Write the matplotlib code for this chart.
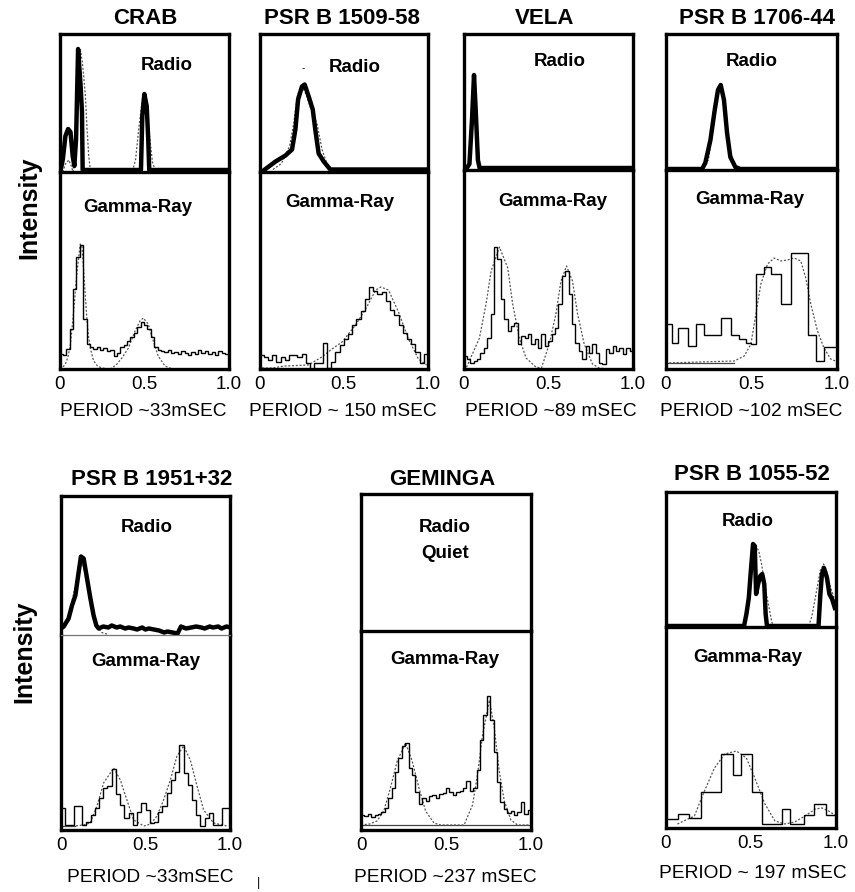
import matplotlib
matplotlib.use("Agg")
import matplotlib.pyplot as plt
import numpy as np

plt.rcParams['font.family'] = ['Liberation Sans', 'DejaVu Sans']

W, H = 855, 892

# ---------------------------------------------------------------- data
names = ["CRAB", "PSR B 1509-58", "VELA", "PSR B 1706-44",
         "PSR B 1951+32", "GEMINGA", "PSR B 1055-52"]
periods = ["PERIOD ~33mSEC", "PERIOD ~ 150 mSEC", "PERIOD ~89 mSEC", "PERIOD ~102 mSEC",
           "PERIOD ~33mSEC", "PERIOD ~237 mSEC", "PERIOD ~ 197 mSEC"]
tick_values = [0, 0.5, 1.0]
tick_labels = ["0", "0.5", "1.0"]

# ---- CRAB
crab_radio_phase = [0.0, 0.006, 0.02, 0.035, 0.051, 0.065, 0.078, 0.088, 0.098, 0.106, 0.11, 0.118,
                    0.125, 0.133, 0.137, 0.482, 0.49, 0.502, 0.516, 0.525, 0.531, 1.0]
crab_radio_int = [1, 1, 13, 36, 43, 40, 16, 6, 33, 93, 123, 103, 86, 60, 2, 2, 56, 78, 66, 33, 2, 2]
crab_radio_fit_phase = [0.02, 0.035, 0.055, 0.07, 0.08, 0.095, 0.105, 0.115, 0.123, 0.135, 0.145, 0.153,
                        0.163, 0.173, 0.182, 0.19, 0.43, 0.45, 0.47, 0.49, 0.50, 0.515, 0.53, 0.55, 0.57]
crab_radio_fit_int = [0, 8, 12, 6, 0, 15, 60, 105, 123, 110, 92, 76, 43, 16, 3, 0, 0, 12, 45, 72, 78, 70,
                      40, 10, 0]
crab_gamma = [15, 14, 20, 40, 80, 112, 124, 50, 25, 22, 20, 22, 19, 21, 18, 19, 13, 16, 22, 24,
              28, 32, 36, 42, 47, 44, 40, 32, 22, 19, 18, 17, 19, 16, 17, 15, 18, 16, 14, 17,
              15, 19, 16, 18, 15, 17, 14, 18, 16, 15]
crab_gamma_fit_phase = [0.0, 0.02, 0.035, 0.05, 0.065, 0.084, 0.104, 0.123, 0.133, 0.143, 0.153, 0.163,
                        0.172, 0.182, 0.202, 0.225, 0.25, 0.3, 0.335, 0.369, 0.408, 0.447, 0.476,
                        0.496, 0.525, 0.555, 0.584, 0.624, 0.653, 0.68]
crab_gamma_fit_int = [1, 2, 5, 12, 25, 58, 98, 125, 122, 98, 72, 48, 32, 21, 8, 3, 1, 0, 4, 11, 21,
                      38, 48, 51, 45, 28, 13, 3, 1, 0]

# ---- PSR B 1509-58
b1509_radio_phase = [0.016, 0.095, 0.154, 0.193, 0.213, 0.229, 0.252, 0.268, 0.292, 0.316, 0.331,
                     0.351, 0.381, 0.42, 1.0]
b1509_radio_int = [0, 10, 16, 22, 42, 72, 85, 87, 75, 62, 42, 18, 10, 2, 2]
b1509_radio_fit_phase = [0.08, 0.13, 0.178, 0.203, 0.225, 0.245, 0.27, 0.30, 0.341, 0.371, 0.40, 0.43, 0.46]
b1509_radio_fit_int = [2, 8, 25, 48, 76, 85, 80, 65, 48, 22, 8, 2, 0]
b1509_gamma = [14, 12, 9, 14, 7, 12, 9, 14, 14, 12, 15, 6, 0, 6, 6, 26, 1, 7, 17, 24,
               30, 35, 44, 50, 58, 70, 82, 78, 75, 77, 68, 59, 54, 44, 36, 30, 25, 17, 6, 15]
b1509_gamma_fit_phase = [0.016, 0.075, 0.15, 0.29, 0.37, 0.43, 0.49, 0.57, 0.63, 0.69, 0.72, 0.765,
                         0.825, 0.884, 0.943, 0.992]
b1509_gamma_fit_int = [1, 1, 3, 4, 12, 20, 27, 44, 60, 79, 82, 79, 57, 30, 10, 4]

# ---- VELA
vela_radio_phase = [0.0, 0.02, 0.035, 0.05, 0.062, 0.072, 0.085, 0.095, 1.0]
vela_radio_int = [2, 2, 6, 50, 95, 60, 10, 2, 2]
vela_radio_fit_phase = [0.02, 0.04, 0.055, 0.065, 0.08, 0.095, 0.11]
vela_radio_fit_int = [0, 20, 80, 95, 40, 5, 0]
vela_gamma = [13, 10, 6, 8, 10, 16, 21, 31, 55, 122, 110, 70, 50, 38, 43, 46, 25, 33, 31, 35,
              25, 30, 21, 35, 23, 28, 35, 41, 65, 93, 98, 75, 45, 26, 18, 10, 23, 16, 25, 16,
              6, 5, 20, 16, 23, 18, 21, 15, 21, 18]
vela_gamma_fit_phase = [0.0, 0.016, 0.094, 0.133, 0.163, 0.212, 0.261, 0.29, 0.329, 0.369, 0.427, 0.46,
                        0.506, 0.545, 0.575, 0.608, 0.643, 0.673, 0.712, 0.761, 0.80, 0.85]
vela_gamma_fit_int = [0, 1, 31, 65, 98, 122, 101, 65, 31, 11, 2, 1, 25, 55, 88, 103, 88, 55, 25, 5, 1, 0]

# ---- PSR B 1706-44
b1706_radio_phase = [0.0, 0.213, 0.232, 0.262, 0.287, 0.306, 0.322, 0.341, 0.359, 0.378, 0.407, 0.436, 1.0]
b1706_radio_int = [1, 1, 7, 30, 60, 80, 85, 70, 37, 13, 3, 1, 1]
b1706_radio_fit_phase = [0.2, 0.25, 0.28, 0.305, 0.32, 0.34, 0.36, 0.38, 0.40, 0.44]
b1706_radio_fit_int = [0, 10, 45, 80, 85, 72, 42, 18, 6, 0]
b1706_gamma_edges = [0.0, 0.039, 0.072, 0.130, 0.178, 0.227, 0.324, 0.382, 0.430, 0.469, 0.498,
                     0.527, 0.576, 0.614, 0.673, 0.731, 0.828, 0.876, 0.924, 1.0]
b1706_gamma = [45, 26, 41, 23, 45, 34, 51, 34, 30, 26, 25, 95, 102, 95, 65, 116, 34, 8, 22]
b1706_gamma_fit_phase = [0.0, 0.401, 0.459, 0.498, 0.527, 0.556, 0.595, 0.634, 0.673, 0.711, 0.75,
                         0.789, 0.818, 0.847, 0.886, 0.924, 0.963, 0.99]
b1706_gamma_fit_int = [6, 8, 13, 25, 55, 85, 105, 111, 108, 109, 111, 108, 91, 65, 38, 21, 10, 8]

# ---- PSR B 1951+32
b1951_radio_phase = [0.0, 0.016, 0.045, 0.065, 0.085, 0.105, 0.118, 0.134, 0.154, 0.174, 0.193, 0.209,
                     0.223, 0.25, 0.28, 0.3, 0.33, 0.35, 0.38, 0.4, 0.43, 0.45, 0.48, 0.5, 0.52, 0.55,
                     0.58, 0.61, 0.63, 0.66, 0.69, 0.71, 0.74, 0.77, 0.8, 0.83, 0.85, 0.88, 0.9, 0.93,
                     0.95, 0.98, 1.0]
b1951_radio_int = [6, 8, 16, 29, 39, 63, 78, 76, 56, 36, 19, 9, 6, 8, 7, 9, 7, 8, 6, 7, 6, 5, 7, 5, 6,
                   5, 4, 2, 3, 2, 1, 8, 6, 7, 8, 7, 6, 8, 7, 8, 6, 8, 7]
b1951_radio_fit_phase = [0.0, 0.04, 0.08, 0.12, 0.16, 0.2, 0.24, 0.28]
b1951_radio_fit_int = [3, 14, 45, 76, 48, 12, 2, 0]
b1951_gamma = [22, 5, 5, 24, 24, 5, 8, 15, 22, 32, 42, 44, 61, 36, 25, 12, 17, 5, 18, 27,
               20, 7, 8, 18, 24, 37, 50, 58, 85, 57, 45, 30, 15, 4, 12, 17, 5, 5, 22, 22]
b1951_gamma_fit_phase = [0.0, 0.08, 0.13, 0.173, 0.213, 0.252, 0.312, 0.351, 0.39, 0.43, 0.49, 0.53,
                         0.568, 0.607, 0.647, 0.686, 0.726, 0.765, 0.805, 0.844, 0.903, 0.982]
b1951_gamma_fit_int = [4, 4, 5, 7, 24, 47, 62, 50, 30, 10, 4, 6, 14, 30, 50, 74, 84, 70, 44, 20, 7, 4]

# ---- GEMINGA (radio quiet)
geminga_gamma = [15, 14, 16, 13, 15, 16, 18, 22, 32, 42, 58, 72, 84, 87, 62, 55, 38, 26, 32, 29,
                 34, 35, 32, 36, 37, 42, 38, 35, 38, 39, 42, 49, 39, 42, 60, 90, 115, 134, 110, 78,
                 48, 28, 21, 17, 19, 15, 18, 28, 16, 20]
geminga_gamma_fit_phase = [0.0, 0.05, 0.094, 0.134, 0.173, 0.213, 0.262, 0.301, 0.341, 0.38, 0.429,
                           0.469, 0.52, 0.57, 0.606, 0.656, 0.685, 0.715, 0.756, 0.784, 0.813, 0.843,
                           0.882, 0.921, 0.96, 1.0]
geminga_gamma_fit_int = [5, 6, 9, 19, 42, 69, 87, 69, 42, 19, 7, 5, 5, 5, 5, 25, 55, 95, 130, 102, 59,
                         29, 10, 5, 5, 5]

# ---- PSR B 1055-52
b1055_radio_phase = [0.0, 0.462, 0.476, 0.49, 0.502, 0.515, 0.525, 0.533, 0.545, 0.557, 0.569, 0.581,
                     0.589, 0.597, 0.9, 0.91, 0.92, 0.932, 0.95, 0.964, 0.98, 0.996]
b1055_radio_int = [1, 1, 13, 29, 56, 83, 81, 33, 43, 51, 53, 43, 13, 1, 1, 30, 53, 59, 49, 33, 28, 19]
b1055_radio_fit_phase = [0.45, 0.466, 0.496, 0.52, 0.535, 0.55, 0.565, 0.594, 0.624, 0.634, 0.84,
                         0.86, 0.881, 0.91, 0.93, 0.95, 0.97, 1.0]
b1055_radio_fit_int = [0, 3, 50, 78, 81, 75, 63, 33, 6, 0, 0, 10, 29, 56, 63, 55, 40, 25]
b1055_gamma_edges = [0.0, 0.071, 0.14, 0.209, 0.328, 0.397, 0.446, 0.51, 0.565, 0.688, 0.733,
                     0.812, 0.871, 0.946, 1.0]
b1055_gamma = [9, 14, 10, 36, 74, 53, 74, 36, 4, 19, 4, 13, 24, 13]
b1055_gamma_fit_phase = [0.07, 0.17, 0.229, 0.288, 0.348, 0.417, 0.476, 0.525, 0.585, 0.644, 0.703,
                         0.76, 0.821, 0.881, 0.92, 0.96, 0.996]
b1055_gamma_fit_int = [4, 12, 37, 60, 74, 77, 70, 50, 24, 7, 4, 6, 12, 19, 20, 17, 13]

# baseline (flat part of the fit drawn solid): (start phase, end phase, level)
baselines = {
    1: (0.016, 0.075, 1),
    3: (0.0, 0.401, 6),
    4: (0.0, 0.08, 4),
    5: (0.0, 1.0, 5),
}

radio_series = [
    (crab_radio_phase, crab_radio_int, crab_radio_fit_phase, crab_radio_fit_int),
    (b1509_radio_phase, b1509_radio_int, b1509_radio_fit_phase, b1509_radio_fit_int),
    (vela_radio_phase, vela_radio_int, vela_radio_fit_phase, vela_radio_fit_int),
    (b1706_radio_phase, b1706_radio_int, b1706_radio_fit_phase, b1706_radio_fit_int),
    (b1951_radio_phase, b1951_radio_int, b1951_radio_fit_phase, b1951_radio_fit_int),
    None,
    (b1055_radio_phase, b1055_radio_int, b1055_radio_fit_phase, b1055_radio_fit_int),
]
gamma_series = [
    (None, crab_gamma, crab_gamma_fit_phase, crab_gamma_fit_int),
    (None, b1509_gamma, b1509_gamma_fit_phase, b1509_gamma_fit_int),
    (None, vela_gamma, vela_gamma_fit_phase, vela_gamma_fit_int),
    (b1706_gamma_edges, b1706_gamma, b1706_gamma_fit_phase, b1706_gamma_fit_int),
    (None, b1951_gamma, b1951_gamma_fit_phase, b1951_gamma_fit_int),
    (None, geminga_gamma, geminga_gamma_fit_phase, geminga_gamma_fit_int),
    (b1055_gamma_edges, b1055_gamma, b1055_gamma_fit_phase, b1055_gamma_fit_int),
]

# ---------------------------------------------------------------- layout (pixels)
# x0, x1, top, divider, bottom
boxes = [
    (59.5, 228.5, 34, 172, 369),
    (259.5, 428, 34, 171.5, 369),
    (463.5, 633, 34, 170, 369),
    (665.5, 837, 34, 170, 369),
    (61, 230, 496, 634.5, 830),
    (361, 531, 494, 631, 830),
    (665.5, 835.5, 492, 627, 828),
]
title_pos = [(145, 19), (342, 19), (545, 19), (757, 19), (152, 479), (442, 479), (752, 474)]
radio_pos = [(167, 65), (355, 67), (560, 62), (752, 62), (147, 528), (445, 527), (748, 522)]
gamma_pos = [(138, 207), (340, 203), (553, 202), (750, 200), (146, 662), (445, 660), (748, 658)]
period_pos = [(143, 412), (343, 412), (551, 412), (751, 412), (150, 877), (445, 877), (753, 873)]

BOX_LW = 2.4
RADIO_LW = 3.2
HIST_LW = 1.0
FIT_COLOR = "#555555"
FIT_LS = (0, (1.6, 1.4))


def fx(x):
    return x / W


def fy(y):
    return 1 - y / H


fig = plt.figure(figsize=(W / 100, H / 100), dpi=100)

for i in range(7):
    x0, x1, top, div, bot = boxes[i]
    axg = fig.add_axes([fx(x0), fy(bot), (x1 - x0) / W, (bot - div) / H])
    axr = fig.add_axes([fx(x0), fy(div), (x1 - x0) / W, (div - top) / H])
    axr.patch.set_visible(False)
    axg.patch.set_visible(False)

    for ax in (axr, axg):
        ax.set_xlim(0, 1)
        ax.set_yticks([])
        for s in ax.spines.values():
            s.set_linewidth(BOX_LW)
            s.set_color("black")
    axr.set_ylim(0, div - top)
    axg.set_ylim(0, bot - div)
    axr.set_xticks([])
    axg.spines['top'].set_visible(False)
    if i == 4:
        axr.spines['bottom'].set_linewidth(0.9)
        axr.spines['bottom'].set_color("#777777")

    # radio
    rs = radio_series[i]
    if rs is not None:
        rp, ri, fp, fi = rs
        axr.plot(fp, fi, color=FIT_COLOR, lw=0.9, ls=FIT_LS, zorder=2)
        axr.plot(rp, ri, color="black", lw=RADIO_LW, solid_joinstyle="round", zorder=3)

    # gamma
    edges, vals, fp, fi = gamma_series[i]
    if edges is None:
        edges = np.linspace(0, 1, len(vals) + 1)
    if i in baselines:
        b0, b1, lev = baselines[i]
        axg.plot([b0, b1], [lev, lev], color="#444444", lw=0.9, zorder=2)
    axg.plot(fp, fi, color=FIT_COLOR, lw=0.9, ls=FIT_LS, zorder=2)
    axg.stairs(vals, edges, baseline=None, color="black", lw=HIST_LW, zorder=3)

    axg.set_xticks(tick_values)
    axg.set_xticklabels(tick_labels, fontsize=13.5)
    axg.tick_params(axis='x', length=0, pad=5)

    # texts
    fig.text(fx(title_pos[i][0]), fy(title_pos[i][1]), names[i], ha="center", va="center",
             fontsize=16, fontweight="bold")
    fig.text(fx(radio_pos[i][0]), fy(radio_pos[i][1]), "Radio", ha="center", va="center",
             fontsize=13.5, fontweight="bold")
    if rs is None:
        fig.text(fx(radio_pos[i][0]), fy(radio_pos[i][1] + 26), "Quiet", ha="center",
                 va="center", fontsize=13.5, fontweight="bold")
    fig.text(fx(gamma_pos[i][0]), fy(gamma_pos[i][1]), "Gamma-Ray", ha="center", va="center",
             fontsize=13.5, fontweight="bold")
    fig.text(fx(period_pos[i][0]), fy(period_pos[i][1]), periods[i], ha="center", va="center",
             fontsize=13.8)

fig.text(fx(29), fy(208), "Intensity", rotation=90, ha="center", va="center",
         fontsize=18, fontweight="bold")
fig.text(fx(24), fy(652), "Intensity", rotation=90, ha="center", va="center",
         fontsize=18, fontweight="bold")
fig.text(fx(303), fy(68), "-", ha="center", va="center", fontsize=7)
fig.text(fx(258), fy(883), "|", ha="center", va="center", fontsize=9)

fig.savefig("out.png", dpi=100)
